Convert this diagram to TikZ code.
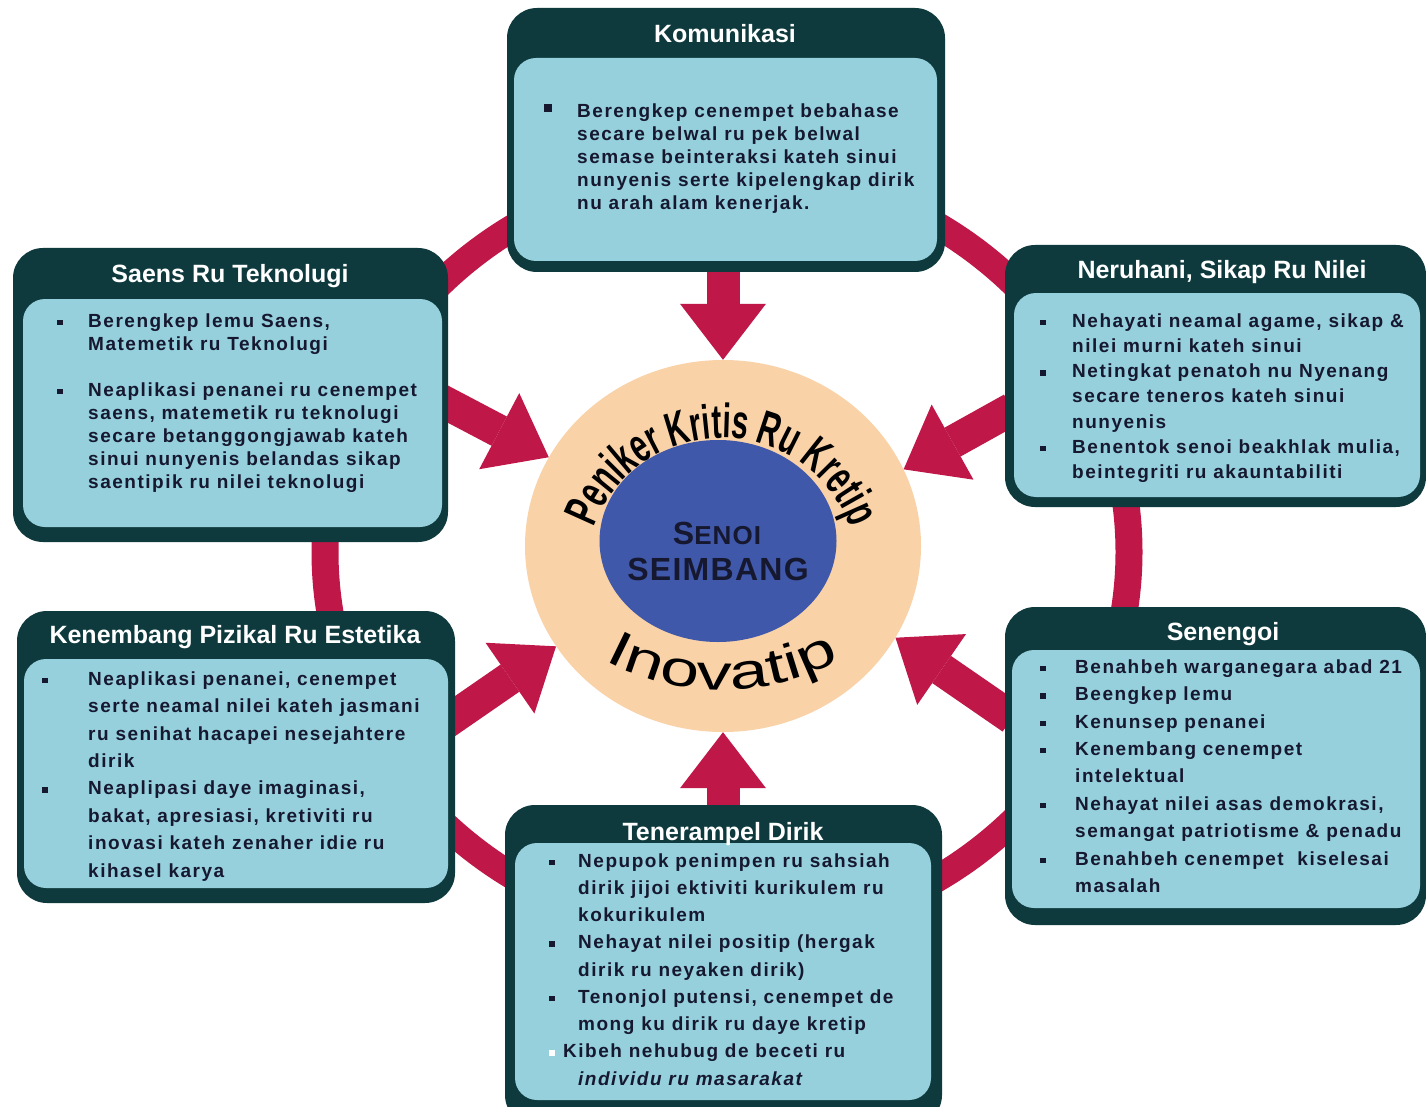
\documentclass[tikz,border=0pt]{standalone}
\usepackage{fontspec}
\setmainfont{Liberation Sans}
\newfontfamily\bodyfont[LetterSpace=8]{Liberation Sans}
\newfontfamily\titlefont{Liberation Sans}
\newfontfamily\arcfont[FakeStretch=0.62]{Liberation Sans}
\newfontfamily\inofont[FakeStretch=1.4]{Liberation Sans}
\newfontfamily\senfont[LetterSpace=4]{Liberation Sans}
\usetikzlibrary{arrows.meta,decorations.text,shapes.geometric}
\definecolor{darkbox}{HTML}{0E3A3D}
\definecolor{lightbox}{HTML}{95D0DC}
\definecolor{crimson}{HTML}{BF1748}
\definecolor{peach}{HTML}{F9D2A8}
\definecolor{midblue}{HTML}{4058AA}
\definecolor{navytext}{HTML}{161830}
\newcommand\sqb{\rule[2pt]{5.5pt}{5.5pt}}
\newcommand\bigsqb{\rule[5pt]{8pt}{8pt}}
\newcommand\bl[1]{\makebox[#1][l]{\sqb}}
\newcommand\ind[1]{\hspace*{#1}}
\newcommand\strt{\rule{0pt}{15pt}}
\tikzset{
  outerbox/.style={fill=darkbox, rounded corners=30pt, inner sep=0pt},
  innerbox/.style={fill=lightbox, rounded corners=22pt, inner sep=0pt},
  boxtitle/.style={text=white, font=\titlefont\bfseries\fontsize{25}{30}\selectfont, inner sep=0pt, anchor=base},
  bodytext/.style={text=navytext, align=left, inner sep=0pt, anchor=north west, font=\bodyfont\bfseries\fontsize{19}{#1}\selectfont},
  bodytext/.default=27.4,
  ringline/.style={draw=crimson, line width=27pt},
  bigarrow/.style={draw=crimson, line width=33pt, -{Triangle[width=86pt,length=56pt,line width=0pt]}},
  corefill/.style={ellipse, inner sep=0pt},
  centertext/.style={text=navytext, font=\senfont\bfseries\fontsize{32}{36}\selectfont, inner sep=0pt, anchor=base},
}
\begin{document}
\begin{tikzpicture}[x=1pt,y=-1pt]
\useasboundingbox[fill=white] (0,0) rectangle (1426,1107);
% ring
\draw[ringline] (727,552) ellipse [x radius=402, y radius=383];
% core circles
\node[corefill, fill=peach, minimum width=396pt, minimum height=372pt] (core) at (723,546) {};
\node[corefill, fill=midblue, minimum width=237pt, minimum height=202pt] (heart) at (718,541) {};
\path[decorate, decoration={text along path, text align=center, text={|\arcfont\bfseries\fontsize{48}{48}\selectfont|Peniker Kritis Ru Kretip}}] (722,575) ++(195:137) arc[start angle=195, end angle=345, radius=137];
\path[decorate, decoration={text along path, text align=center, text={|\inofont\fontsize{50}{50}\selectfont|Inovatip}}] (722,440) ++(125:250) arc[start angle=125, end angle=55, radius=250];
\node[centertext] (senoi) at (717,544) {S{\fontsize{26}{30}\selectfont ENOI}};
\node[centertext] (seimbang) at (718,580) {SEIMBANG};
% arrow ports
\coordinate (kom-port) at (723,262);
\coordinate (ten-port) at (723,815);
\coordinate (sae-port) at (440,400);
\coordinate (ner-port) at (1012,409);
\coordinate (ken-port) at (445,723);
\coordinate (sen-port) at (1012,718);
\draw[bigarrow] (kom-port) -- (core.north);
\draw[bigarrow] (ten-port) -- (core.south);
\draw[bigarrow] (sae-port) -- (core.153);
\draw[bigarrow] (ner-port) -- (core.23);
\draw[bigarrow] (ken-port) -- (core.211);
\draw[bigarrow] (sen-port) -- (core.332);
% Komunikasi
\node[outerbox, minimum width=438pt, minimum height=264pt] (kom) at (726,140) {};
\node[innerbox, minimum width=423pt, minimum height=203pt] (kom-in) at (725.5,159.5) {};
\node[boxtitle] (kom-title) at (725,43) {Komunikasi};
\node[bodytext=23] (kom-text) at (544,102) {\makebox[33pt][l]{\bigsqb}\strt Berengkep cenempet bebahase\\\ind{33pt}secare belwal ru pek belwal\\\ind{33pt}semase beinteraksi kateh sinui\\\ind{33pt}nunyenis serte kipelengkap dirik\\\ind{33pt}nu arah alam kenerjak.};
% Saens
\node[outerbox, minimum width=435pt, minimum height=294pt] (sae) at (230.5,395) {};
\node[innerbox, minimum width=419pt, minimum height=228pt] (sae-in) at (232.5,413) {};
\node[boxtitle] (sae-title) at (230,282) {Saens Ru Teknolugi};
\node[bodytext=23] (sae-text) at (57,312) {\bl{31pt}\strt Berengkep lemu Saens,\\\ind{31pt}Matemetik ru Teknolugi\\[23pt]\bl{31pt}Neaplikasi penanei ru cenempet\\\ind{31pt}saens, matemetik ru teknolugi\\\ind{31pt}secare betanggongjawab kateh\\\ind{31pt}sinui nunyenis belandas sikap\\\ind{31pt}saentipik ru nilei teknolugi};
% Neruhani
\node[outerbox, minimum width=421pt, minimum height=262pt] (ner) at (1215.5,376) {};
\node[innerbox, minimum width=406pt, minimum height=204pt] (ner-in) at (1217,395) {};
\node[boxtitle] (ner-title) at (1222,278) {Neruhani, Sikap Ru Nilei};
\node[bodytext=25.2] (ner-text) at (1040,312) {\bl{32pt}\strt Nehayati neamal agame, sikap \&\\\ind{32pt}nilei murni kateh sinui\\\bl{32pt}Netingkat penatoh nu Nyenang\\\ind{32pt}secare teneros kateh sinui\\\ind{32pt}nunyenis\\\bl{32pt}Benentok senoi beakhlak mulia,\\\ind{32pt}beintegriti ru akauntabiliti};
% Kenembang
\node[outerbox, minimum width=438pt, minimum height=292pt] (ken) at (236,757) {};
\node[innerbox, minimum width=424pt, minimum height=229pt] (ken-in) at (236,773.5) {};
\node[boxtitle] (ken-title) at (235,643) {Kenembang Pizikal Ru Estetika};
\node[bodytext=27.4] (ken-text) at (42,670) {\bl{46pt}\strt Neaplikasi penanei, cenempet\\\ind{46pt}serte neamal nilei kateh jasmani\\\ind{46pt}ru senihat hacapei nesejahtere\\\ind{46pt}dirik\\\bl{46pt}Neaplipasi daye imaginasi,\\\ind{46pt}bakat, apresiasi, kretiviti ru\\\ind{46pt}inovasi kateh zenaher idie ru\\\ind{46pt}kihasel karya};
% Senengoi
\node[outerbox, minimum width=421pt, minimum height=318pt] (sen) at (1215.5,766) {};
\node[innerbox, minimum width=408pt, minimum height=258pt] (sen-in) at (1216,779) {};
\node[boxtitle] (sen-title) at (1223,640) {Senengoi};
\node[bodytext=27.4] (sen-text) at (1040,658) {\bl{35pt}\strt Benahbeh warganegara abad 21\\\bl{35pt}Beengkep lemu\\\bl{35pt}Kenunsep penanei\\\bl{35pt}Kenembang cenempet\\\ind{35pt}intelektual\\\bl{35pt}Nehayat nilei asas demokrasi,\\\ind{35pt}semangat patriotisme \& penadu\\\bl{35pt}Benahbeh cenempet\ \ kiselesai\\\ind{35pt}masalah};
% Tenerampel
\node[outerbox, minimum width=437pt, minimum height=320pt] (ten) at (723.5,965) {};
\node[innerbox, minimum width=416pt, minimum height=257pt] (ten-in) at (723,971.5) {};
\node[boxtitle] (ten-title) at (723,840) {Tenerampel Dirik};
\node[bodytext=27.25] (ten-text) at (549,852) {\bl{29pt}\strt Nepupok penimpen ru sahsiah\\\ind{29pt}dirik jijoi ektiviti kurikulem ru\\\ind{29pt}kokurikulem\\\bl{29pt}Nehayat nilei positip (hergak\\\ind{29pt}dirik ru neyaken dirik)\\\bl{29pt}Tenonjol putensi, cenempet de\\\ind{29pt}mong ku dirik ru daye kretip\\\makebox[14pt][l]{\textcolor{white}{\sqb}}Kibeh nehubug de beceti ru\\\ind{29pt}\textit{individu ru masarakat}};
\end{tikzpicture}
\end{document}
